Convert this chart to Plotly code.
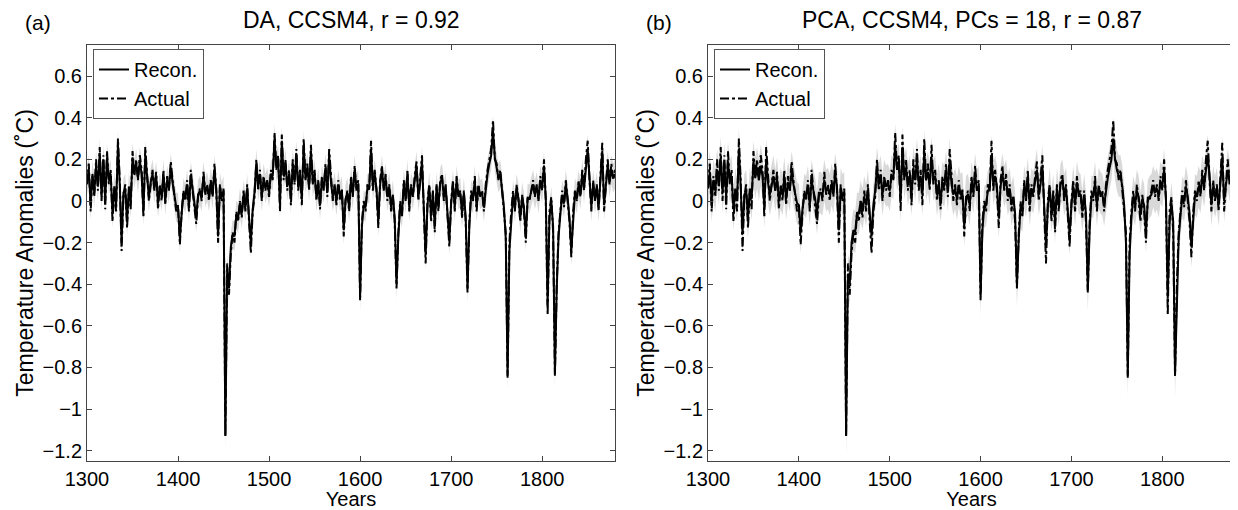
# temperature reconstructions vs actual, CCSM4 (DA and PCA panels)
import plotly.graph_objects as go

# years, every second year
years = list(range(1300, 1881, 2))

# "actual" CCSM4 temperature anomalies (same target in both panels)
actual = [
    0.08, 0.18, -0.05, 0.12, 0.02, 0.20, 0.05, 0.26, 0.00, 0.22,
    -0.04, 0.24, 0.08, 0.15, -0.10, 0.05, -0.05, 0.30, 0.10, -0.24,
    0.02, 0.08, -0.13, 0.05, -0.04, 0.24, 0.12, 0.20, 0.10, 0.22,
    0.15, -0.08, 0.26, 0.10, 0.00, 0.08, 0.15, 0.05, 0.14, -0.04,
    0.08, 0.00, 0.15, -0.02, 0.12, 0.05, 0.19, 0.10, 0.02, -0.05,
    -0.02, -0.21, -0.05, 0.05, 0.00, 0.10, -0.05, 0.15, 0.05, -0.02,
    -0.11, 0.02, 0.06, 0.00, 0.14, 0.03, 0.08, 0.00, 0.10, 0.02,
    0.18, 0.05, -0.20, 0.08, 0.00, 0.06, -1.13, -0.30, -0.45, -0.25,
    -0.15, -0.20, -0.05, -0.10, 0.00, -0.08, 0.05, -0.05, 0.08, -0.10,
    -0.25, -0.05, 0.02, 0.20, 0.05, 0.15, 0.00, 0.12, 0.05, 0.10,
    0.02, 0.15, 0.10, 0.33, 0.15, 0.22, -0.05, 0.32, 0.10, 0.20,
    0.05, 0.15, -0.02, 0.20, 0.08, 0.25, 0.05, 0.15, -0.02, 0.30,
    0.10, 0.18, 0.05, 0.27, 0.08, 0.15, 0.00, 0.10, -0.04, 0.12,
    0.05, 0.18, 0.02, 0.25, 0.10, 0.00, 0.08, -0.02, 0.10, 0.00,
    0.06, -0.17, 0.00, 0.05, -0.05, 0.12, 0.02, 0.17, 0.05, 0.10,
    -0.48, -0.10, 0.00, -0.05, 0.08, 0.05, 0.29, 0.05, 0.15, 0.05,
    -0.13, 0.10, 0.17, 0.05, 0.13, 0.00, 0.08, -0.05, 0.02, -0.10,
    -0.42, -0.15, 0.00, -0.08, 0.10, 0.00, 0.15, -0.05, 0.08, 0.02,
    0.12, 0.19, 0.00, 0.10, 0.22, -0.05, -0.30, 0.00, 0.08, -0.10,
    0.05, -0.15, 0.08, -0.05, 0.10, 0.13, 0.00, 0.08, -0.10, -0.22,
    0.00, 0.10, -0.05, 0.12, 0.02, 0.05, -0.08, 0.05, -0.10, -0.44,
    -0.10, 0.05, 0.00, 0.12, -0.05, 0.08, 0.02, 0.05, -0.05, 0.08,
    0.15, 0.20, 0.25, 0.39, 0.20, 0.18, 0.10, 0.15, 0.05, -0.05,
    -0.15, -0.85, -0.20, -0.05, 0.05, -0.05, 0.08, 0.00, -0.10, 0.03,
    -0.05, -0.20, 0.02, 0.00, 0.05, 0.10, 0.02, 0.08, 0.00, 0.12,
    0.05, 0.20, 0.00, -0.55, -0.05, 0.02, -0.15, -0.84, -0.40, -0.15,
    -0.05, 0.05, -0.03, 0.10, 0.00, -0.10, -0.27, -0.05, 0.05, 0.00,
    0.10, 0.02, 0.15, 0.05, 0.20, 0.29, 0.10, -0.05, 0.10, 0.00,
    0.08, -0.05, 0.12, 0.28, -0.05, 0.10, 0.20, 0.08, 0.18, 0.10,
    0.15,
]

# DA reconstruction
recon_da = [
    0.10, 0.15, -0.02, 0.13, 0.04, 0.17, 0.07, 0.23, 0.02, 0.20,
    0.00, 0.21, 0.10, 0.13, -0.06, 0.07, -0.02, 0.27, 0.08, -0.20,
    0.04, 0.06, -0.10, 0.07, -0.01, 0.21, 0.13, 0.18, 0.11, 0.19,
    0.13, -0.05, 0.22, 0.11, 0.02, 0.09, 0.13, 0.06, 0.12, -0.01,
    0.07, 0.02, 0.13, 0.00, 0.10, 0.06, 0.16, 0.09, 0.03, -0.03,
    -0.03, -0.18, -0.06, 0.04, 0.01, 0.08, -0.03, 0.12, 0.06, 0.00,
    -0.08, 0.03, 0.05, 0.02, 0.12, 0.04, 0.07, 0.02, 0.09, 0.03,
    0.15, 0.06, -0.17, 0.07, 0.02, 0.05, -1.13, -0.33, -0.42, -0.22,
    -0.16, -0.17, -0.07, -0.08, -0.01, -0.06, 0.03, -0.03, 0.06, -0.08,
    -0.20, -0.04, 0.04, 0.18, 0.07, 0.13, 0.02, 0.11, 0.06, 0.09,
    0.04, 0.13, 0.12, 0.30, 0.16, 0.20, -0.02, 0.29, 0.12, 0.18,
    0.07, 0.13, 0.01, 0.18, 0.09, 0.22, 0.07, 0.13, 0.01, 0.27,
    0.11, 0.16, 0.07, 0.24, 0.09, 0.13, 0.02, 0.09, -0.02, 0.10,
    0.06, 0.16, 0.04, 0.22, 0.09, 0.02, 0.07, 0.00, 0.08, 0.02,
    0.05, -0.14, 0.01, 0.04, -0.03, 0.10, 0.03, 0.15, 0.06, 0.08,
    -0.46, -0.12, -0.02, -0.03, 0.06, 0.06, 0.25, 0.07, 0.13, 0.06,
    -0.10, 0.08, 0.15, 0.06, 0.11, 0.02, 0.07, -0.03, 0.03, -0.08,
    -0.40, -0.17, -0.02, -0.06, 0.08, 0.01, 0.13, -0.03, 0.07, 0.03,
    0.10, 0.17, 0.02, 0.09, 0.19, -0.03, -0.26, -0.02, 0.07, -0.07,
    0.04, -0.12, 0.07, -0.03, 0.09, 0.11, 0.02, 0.07, -0.08, -0.19,
    -0.01, 0.08, -0.03, 0.10, 0.03, 0.04, -0.06, 0.04, -0.08, -0.42,
    -0.12, 0.03, 0.01, 0.10, -0.03, 0.07, 0.03, 0.04, -0.03, 0.07,
    0.13, 0.18, 0.22, 0.34, 0.21, 0.16, 0.11, 0.13, 0.06, -0.03,
    -0.18, -0.84, -0.24, -0.07, 0.03, -0.03, 0.06, 0.01, -0.08, 0.02,
    -0.03, -0.17, 0.01, 0.01, 0.04, 0.08, 0.03, 0.07, 0.01, 0.10,
    0.06, 0.17, 0.01, -0.50, -0.08, 0.00, -0.12, -0.83, -0.42, -0.17,
    -0.06, 0.03, -0.01, 0.08, 0.01, -0.08, -0.24, -0.07, 0.04, 0.01,
    0.08, 0.03, 0.13, 0.06, 0.17, 0.25, 0.11, -0.03, 0.08, 0.01,
    0.07, -0.03, 0.10, 0.24, -0.02, 0.09, 0.17, 0.09, 0.15, 0.11,
    0.13,
]

# PCA reconstruction (18 PCs)
recon_pca = [
    0.06, 0.14, 0.00, 0.10, 0.05, 0.15, 0.08, 0.21, 0.04, 0.18,
    0.02, 0.19, 0.09, 0.12, -0.04, 0.06, 0.00, 0.25, 0.07, -0.16,
    0.03, 0.05, -0.08, 0.06, 0.01, 0.19, 0.11, 0.16, 0.10, 0.17,
    0.12, -0.03, 0.20, 0.09, 0.03, 0.08, 0.12, 0.05, 0.11, 0.00,
    0.06, 0.03, 0.11, 0.01, 0.09, 0.05, 0.14, 0.08, 0.04, -0.01,
    -0.02, -0.15, -0.04, 0.03, 0.02, 0.07, -0.02, 0.10, 0.05, 0.01,
    -0.06, 0.04, 0.04, 0.03, 0.10, 0.05, 0.06, 0.03, 0.08, 0.04,
    0.13, 0.07, -0.14, 0.06, 0.03, 0.04, -1.13, -0.35, -0.40, -0.20,
    -0.14, -0.15, -0.06, -0.06, 0.00, -0.04, 0.02, -0.02, 0.05, -0.06,
    -0.17, -0.02, 0.05, 0.16, 0.08, 0.12, 0.03, 0.10, 0.07, 0.08,
    0.05, 0.12, 0.11, 0.27, 0.15, 0.18, 0.00, 0.26, 0.11, 0.16,
    0.08, 0.12, 0.03, 0.16, 0.10, 0.20, 0.08, 0.12, 0.03, 0.24,
    0.10, 0.14, 0.08, 0.21, 0.10, 0.12, 0.03, 0.08, 0.00, 0.09,
    0.07, 0.14, 0.05, 0.20, 0.08, 0.03, 0.06, 0.01, 0.07, 0.03,
    0.04, -0.12, 0.02, 0.03, -0.02, 0.09, 0.04, 0.13, 0.05, 0.07,
    -0.45, -0.14, -0.03, -0.02, 0.05, 0.05, 0.22, 0.08, 0.12, 0.07,
    -0.08, 0.07, 0.13, 0.07, 0.10, 0.03, 0.06, -0.02, 0.02, -0.06,
    -0.41, -0.18, -0.03, -0.05, 0.07, 0.02, 0.11, -0.02, 0.06, 0.04,
    0.09, 0.15, 0.03, 0.08, 0.17, -0.02, -0.22, -0.03, 0.06, -0.05,
    0.03, -0.10, 0.06, -0.02, 0.08, 0.10, 0.03, 0.06, -0.06, -0.16,
    -0.02, 0.07, -0.02, 0.09, 0.04, 0.03, -0.05, 0.03, -0.06, -0.43,
    -0.14, 0.02, 0.02, 0.09, -0.02, 0.06, 0.04, 0.03, -0.02, 0.06,
    0.11, 0.16, 0.20, 0.30, 0.20, 0.15, 0.12, 0.12, 0.07, -0.02,
    -0.20, -0.84, -0.26, -0.08, 0.02, -0.02, 0.05, 0.02, -0.06, 0.01,
    -0.02, -0.15, 0.00, 0.02, 0.03, 0.07, 0.04, 0.06, 0.02, 0.09,
    0.07, 0.15, 0.02, -0.47, -0.10, -0.01, -0.10, -0.84, -0.44, -0.18,
    -0.07, 0.02, 0.00, 0.07, 0.02, -0.06, -0.22, -0.08, 0.03, 0.02,
    0.07, 0.04, 0.12, 0.07, 0.15, 0.22, 0.12, -0.02, 0.07, 0.02,
    0.06, -0.02, 0.09, 0.21, 0.00, 0.08, 0.15, 0.10, 0.13, 0.12,
    0.12,
]

# half width of the grey uncertainty band
spread_da = 0.07
spread_pca = 0.10

xticks = [1300, 1400, 1500, 1600, 1700, 1800]
yticks = [0.6, 0.4, 0.2, 0, -0.2, -0.4, -0.6, -0.8, -1, -1.2]

assert len(actual) == len(years) == len(recon_da) == len(recon_pca)

FONT = "Liberation Sans, Arial, sans-serif"
# the page body has an 8px margin, so the figure is 8px smaller than the window
OFF = 8
W, H = 1238 - OFF, 510 - OFF


def px(x):
    return (x - OFF) / W


def py(y):
    return (H - (y - OFF)) / H


fig = go.Figure()


def add_panel(recon, spread, xa, ya, leg):
    lo = [v - spread for v in recon]
    hi = [v + spread for v in recon]
    fig.add_trace(go.Scatter(x=years, y=lo, xaxis=xa, yaxis=ya, mode="lines",
                             line=dict(width=0, color="#d9d9d9"), showlegend=False,
                             hoverinfo="skip"))
    fig.add_trace(go.Scatter(x=years, y=hi, xaxis=xa, yaxis=ya, mode="lines",
                             line=dict(width=0, color="#d9d9d9"), fill="tonexty",
                             fillcolor="#d9d9d9", showlegend=False, hoverinfo="skip"))
    fig.add_trace(go.Scatter(x=years, y=recon, xaxis=xa, yaxis=ya, mode="lines",
                             name="Recon.", legend=leg,
                             line=dict(color="black", width=2)))
    fig.add_trace(go.Scatter(x=years, y=actual, xaxis=xa, yaxis=ya, mode="lines",
                             name="Actual", legend=leg,
                             line=dict(color="black", width=2, dash="dashdot")))


add_panel(recon_da, spread_da, "x", "y", "legend")
add_panel(recon_pca, spread_pca, "x2", "y2", "legend2")

# pixel boxes of the two axes (window coordinates)
box_a = (87, 615)
box_b = (708, 1235)
top, bottom = 45, 461

xstyle = dict(range=[1300, 1880], tickvals=xticks, ticks="inside", ticklen=5,
              showline=True, mirror="ticks", linecolor="#444", tickcolor="#444",
              linewidth=1, showgrid=False, zeroline=False, automargin=False,
              tickfont=dict(size=20, color="black"),
              title=dict(text="Years", font=dict(size=20, color="black"), standoff=2))
ystyle = dict(range=[-1.25, 0.75], tickvals=yticks, ticks="inside", ticklen=5,
              showline=True, mirror="ticks", linecolor="#444", tickcolor="#444",
              linewidth=1, showgrid=False, zeroline=False, automargin=False,
              tickfont=dict(size=20, color="black"),
              title=dict(text="Temperature Anomalies (\u02daC)",
                         font=dict(size=23, color="black"), standoff=2))

ydom = [py(bottom), py(top)]
legstyle = dict(xanchor="left", yanchor="top", y=py(49), traceorder="normal",
                bgcolor="white", bordercolor="#555", borderwidth=1,
                font=dict(size=20, color="black"), tracegroupgap=0)
fig.update_layout(
    width=W, height=H,
    margin=dict(l=0, r=0, t=0, b=0, autoexpand=False),
    paper_bgcolor="white", plot_bgcolor="white",
    font=dict(family=FONT, color="black"),
    xaxis=dict(xstyle, domain=[px(box_a[0]), px(box_a[1])], anchor="y"),
    yaxis=dict(ystyle, domain=ydom, anchor="x"),
    xaxis2=dict(xstyle, domain=[px(box_b[0]), px(box_b[1])], anchor="y2"),
    yaxis2=dict(ystyle, domain=ydom, anchor="x2"),
    legend=dict(legstyle, x=px(93)),
    legend2=dict(legstyle, x=px(714)),
    showlegend=True,
)

titles = [
    ((box_a[0] + box_a[1]) / 2, "DA, CCSM4, r = 0.92"),
    ((box_b[0] + box_b[1]) / 2, "PCA, CCSM4, PCs = 18, r = 0.87"),
]
for cx, txt in titles:
    fig.add_annotation(x=px(cx), y=py(20), xref="paper", yref="paper",
                       text=txt, showarrow=False, font=dict(size=23, color="black"),
                       xanchor="center", yanchor="middle")
for lx, lab in [(38, "(a)"), (659, "(b)")]:
    fig.add_annotation(x=px(lx), y=py(23), xref="paper", yref="paper",
                       text=lab, showarrow=False, font=dict(size=21, color="black"),
                       xanchor="center", yanchor="middle")

fig.write_html("out.html")
